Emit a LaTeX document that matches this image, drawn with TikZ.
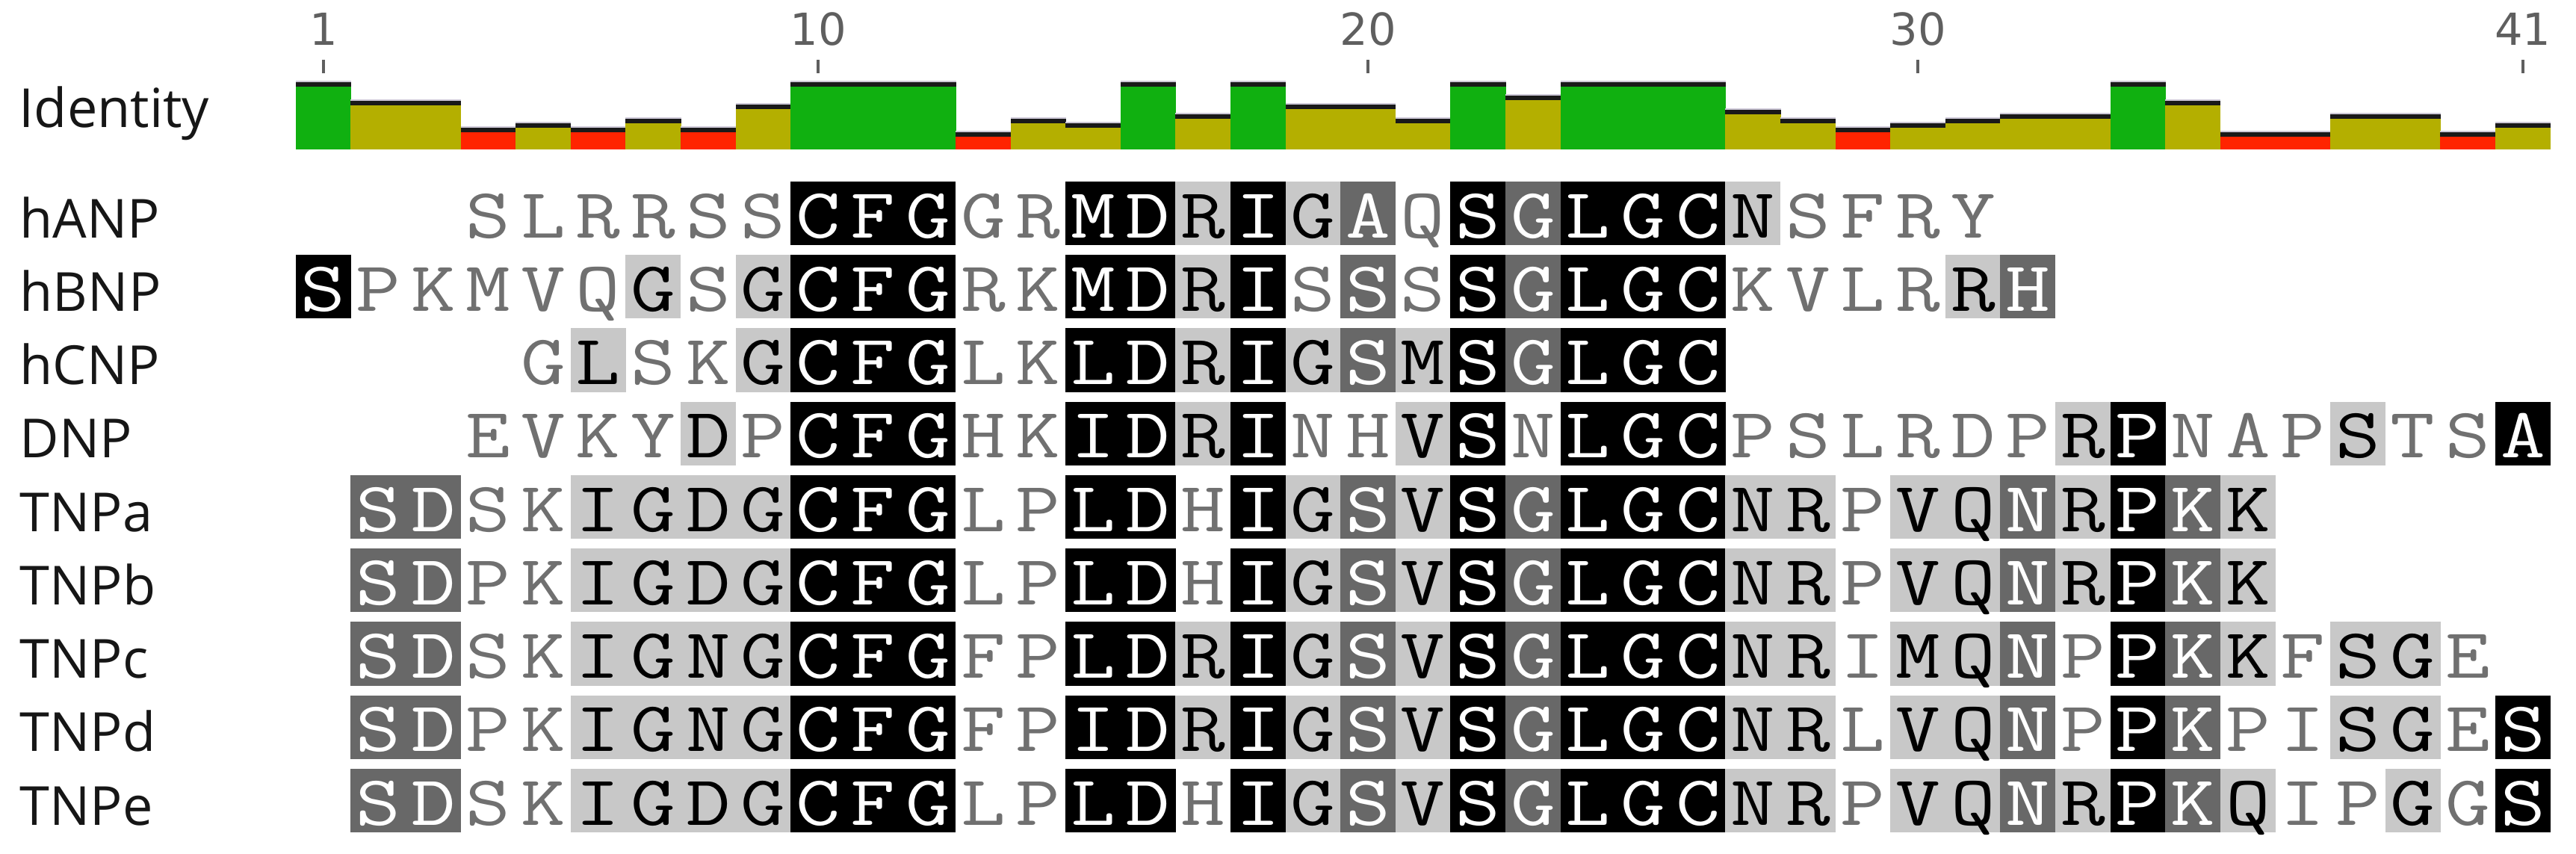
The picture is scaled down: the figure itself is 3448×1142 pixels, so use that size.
\documentclass[tikz,border=0pt]{standalone}
\usepackage{fontspec}
\newfontfamily\labfont{Open Sans}
\newfontfamily\numfont{DejaVu Sans}
\newcommand\seqfont{\ttfamily\fontsize{27}{27}\selectfont}
\definecolor{idg}{RGB}{16,176,16}
\definecolor{idy}{RGB}{180,175,0}
\definecolor{idr}{RGB}{255,36,0}
\definecolor{lgray}{RGB}{200,200,200}
\definecolor{dgray}{RGB}{104,104,104}
\definecolor{unsh}{RGB}{112,112,112}
\definecolor{labc}{RGB}{22,22,22}
\definecolor{numc}{RGB}{95,95,95}
\definecolor{barline}{RGB}{205,200,215}
\tikzset{
  cellbase/.style={rectangle, inner sep=0pt, minimum width=0.74cm, minimum height=0.85cm,
    text height=0.65cm, text depth=0cm, font=\seqfont},
  shn/.style={cellbase, text=unsh},
  shl/.style={cellbase, fill=lgray, text=black},
  shd/.style={cellbase, fill=dgray, text=white},
  shb/.style={cellbase, fill=black, text=white},
  rowlab/.style={anchor=base west, inner sep=0pt, text=labc, font=\labfont\fontsize{20.5}{24}\selectfont},
  numlab/.style={anchor=base, inner sep=0pt, text=numc, font=\numfont\fontsize{16.8}{20}\selectfont},
  tickmark/.style={draw=numc, line width=1.1pt}
}
\newcommand\alncell[2]{%
  \node[sh#2] (c-\rowidx-\colidx) at ({396+(\colidx-0.5)*73.6},{\rowtop+42.5}) {\scalebox{1.22}[1]{#1}};}
\def\alnloop#1#2\relax#3#4\relax{%
  \alncell{#1}{#3}%
  \pgfmathtruncatemacro\colidx{\colidx+1}%
  \if\relax\detokenize{#2}\relax\else\alnloop#2\relax#4\relax\fi}
\newcommand\alnrow[4]{\def\rowidx{#1}\def\colidx{#2}%
  \pgfmathsetmacro\rowtop{243+98.25*#1}%
  \alnloop#3\relax#4\relax}
\begin{document}
\begin{tikzpicture}[x=0.01cm,y=-0.01cm]
\useasboundingbox (0,0) rectangle (3448,1142);
\fill[white] (0,0) rectangle (3448,1142);
% identity bars
\foreach \k/\t/\c in {1/110/idg,2/135/idy,3/135/idy,4/171/idr,5/165/idy,6/171/idr,7/159/idy,8/171/idr,9/140/idy,
  10/110/idg,11/110/idg,12/110/idg,13/177/idr,14/159/idy,15/165/idy,16/110/idg,17/153/idy,18/110/idg,19/140/idy,
  20/140/idy,21/159/idy,22/110/idg,23/128/idy,24/110/idg,25/110/idg,26/110/idg,27/147/idy,28/159/idy,29/171/idr,
  30/165/idy,31/159/idy,32/153/idy,33/153/idy,34/110/idg,35/135/idy,36/177/idr,37/177/idr,38/153/idy,39/153/idy,
  40/177/idr,41/165/idy}{
  \fill[\c] ({396+(\k-1)*73.6-0.3},\t) rectangle ({396+\k*73.6+0.3},200);
  \fill[barline] ({396+(\k-1)*73.6-0.3},{\t-2.5}) rectangle ({396+\k*73.6+0.3},\t);
  \fill[black!90] ({396+(\k-1)*73.6-0.3},\t) rectangle ({396+\k*73.6+0.3},{\t+5.5});
}
% ruler numbers and ticks
\foreach \n in {1,10,20,30,41}{
  \node[numlab] (num-\n) at ({396+(\n-0.5)*73.6},60) {\n};
  \draw[tickmark] ({396+(\n-0.5)*73.6},80) -- ({396+(\n-0.5)*73.6},98);
}
% labels
\node[rowlab] (lab-id) at (25,170) {Identity};
\node[rowlab] (lab-hANP) at (26,318) {hANP};
\node[rowlab] (lab-hBNP) at (26,416.25) {hBNP};
\node[rowlab] (lab-hCNP) at (26,514.5) {hCNP};
\node[rowlab] (lab-DNP) at (26,612.75) {DNP};
\node[rowlab] (lab-TNPa) at (26,711) {TNPa};
\node[rowlab] (lab-TNPb) at (26,809.25) {TNPb};
\node[rowlab] (lab-TNPc) at (26,907.5) {TNPc};
\node[rowlab] (lab-TNPd) at (26,1005.75) {TNPd};
\node[rowlab] (lab-TNPe) at (26,1104) {TNPe};
% alignment rows
\alnrow{0}{4}{SLRRSSCFGGRMDRIGAQSGLGCNSFRY}{nnnnnnbbbnnbblbldnbdbbblnnnn}
\alnrow{1}{1}{SPKMVQGSGCFGRKMDRISSSSGLGCKVLRRH}{bnnnnnlnlbbbnnbblbndnbdbbbnnnnld}
\alnrow{2}{5}{GLSKGCFGLKLDRIGSMSGLGC}{nlnnlbbbnnbblbldlbdbbb}
\alnrow{3}{4}{EVKYDPCFGHKIDRINHVSNLGCPSLRDPRPNAPSTSA}{nnnnlnbbbnnbblbnnlbnbbbnnnnnnlbnnnlnnb}
\alnrow{4}{2}{SDSKIGDGCFGLPLDHIGSVSGLGCNRPVQNRPKK}{ddnnllllbbbnnbbnbldlbdbbbllnlldlbdl}
\alnrow{5}{2}{SDPKIGDGCFGLPLDHIGSVSGLGCNRPVQNRPKK}{ddnnllllbbbnnbbnbldlbdbbbllnlldlbdl}
\alnrow{6}{2}{SDSKIGNGCFGFPLDRIGSVSGLGCNRIMQNPPKKFSGE}{ddnnllllbbbnnbblbldlbdbbbllnlldnbdlnlln}
\alnrow{7}{2}{SDPKIGNGCFGFPIDRIGSVSGLGCNRLVQNPPKPISGES}{ddnnllllbbbnnbblbldlbdbbbllnlldnbdnnllnb}
\alnrow{8}{2}{SDSKIGDGCFGLPLDHIGSVSGLGCNRPVQNRPKQIPGGS}{ddnnllllbbbnnbbnbldlbdbbbllnlldlbdlnnlnb}
\end{tikzpicture}
\end{document}
